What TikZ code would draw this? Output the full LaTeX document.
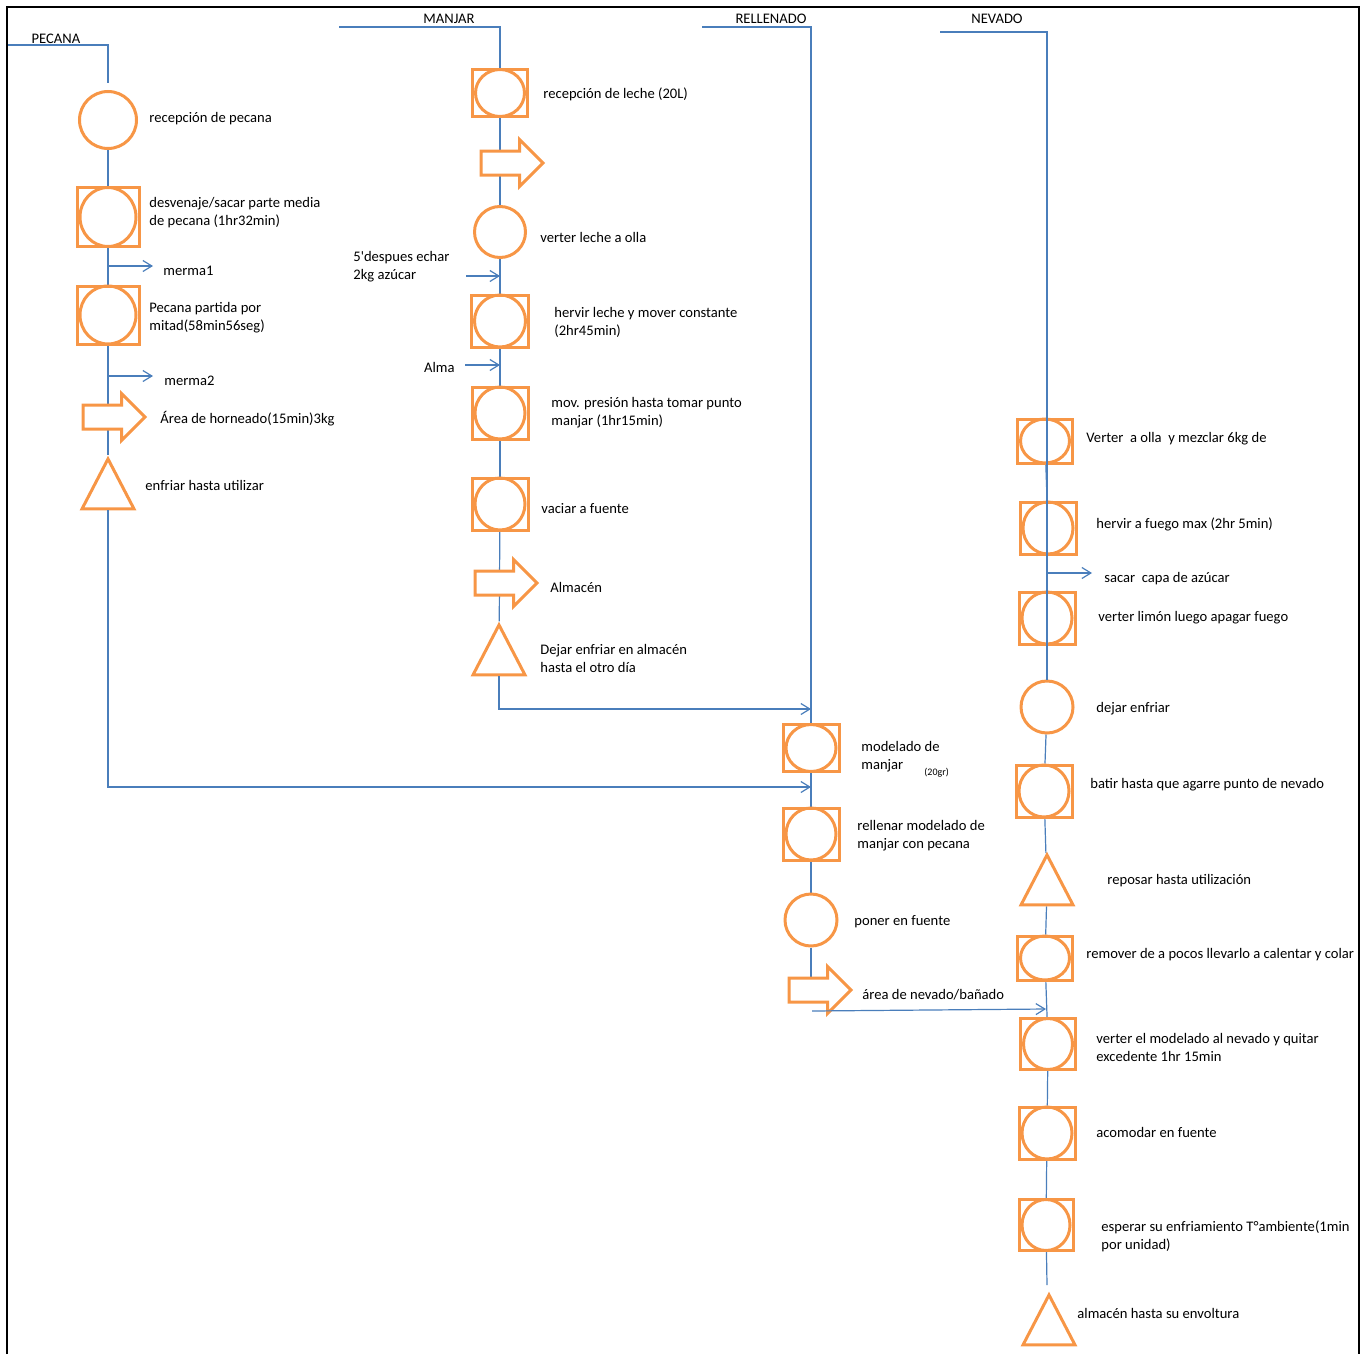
\documentclass[tikz,border=0pt]{standalone}
\usepackage{fontspec}
\setmainfont{Carlito}
\usepackage{tikz}
\usetikzlibrary{positioning}
\usetikzlibrary{arrows.meta,shapes}
\usetikzlibrary{shapes.geometric,shapes.arrows}
\usetikzlibrary{backgrounds}
\definecolor{naranja}{HTML}{F79646}
\definecolor{azul}{HTML}{4A7EBB}
\newcommand{\etiq}{\fontsize{7.3}{9}\selectfont}
\newcommand{\etiqchica}{\fontsize{5}{6}\selectfont}
\tikzstyle{oper}=[circle,draw=naranja,line width=1.5pt,inner sep=0pt]
\tikzstyle{caja}=[rectangle,draw=naranja,line width=1.5pt,inner sep=0pt]
\tikzstyle{ovalo}=[ellipse,draw=naranja,line width=1.5pt,inner sep=0pt]
\tikzstyle{espera}=[isosceles triangle,isosceles triangle stretches,shape border rotate=90,draw=naranja,line width=1.5pt,minimum width=26pt,minimum height=25pt,inner sep=0pt,anchor=apex]
\tikzstyle{mover}=[single arrow,draw=naranja,fill=white,line width=1.5pt,minimum height=31pt,minimum width=22pt,single arrow head extend=5.75pt,inner xsep=0pt,inner ysep=5.25pt,anchor=tail]
\tikzstyle{flujo} = [draw=azul,line width=0.6pt]
\tikzstyle{salida} = [draw=azul,line width=0.6pt,-{Straight Barb[length=4.5pt,width=5.5pt]}]
\tikzstyle{texto} = [font=\etiq,anchor=west,align=left,inner sep=0pt,yshift=-1pt]
\tikzstyle{cabecera} = [font=\etiq,inner sep=0pt]
\tikzstyle{marco} = [draw=black,line width=1pt]

\begin{document}
\begin{tikzpicture}[x=0.5pt,y=-0.5pt]
    \useasboundingbox (0,0) rectangle (1369,1354);
    \draw[marco] (7,1354) -- (7,7) -- (1359,7) -- (1359,1354);

    % PECANA
    \node[cabecera] (hpecana) at (56,39) {PECANA};
    \node[oper,minimum size=28.5pt] (p1) at (108,120) {};
    \foreach \n/\x/\y/\w/\h in {p2/108/217/62/59, p3/108/315/62/58}
    {
        \node[caja,minimum width=\w*0.5pt,minimum height=\h*0.5pt] (\n) at (\x,\y) {};
        \node[ovalo,minimum width=\w*0.5pt-3pt,minimum height=\h*0.5pt] (\n c) at (\x,\y) {};
    }
    \node[mover] (p4) at (81.5,417) {};
    \node[espera] (p5) at (108,455) {};

    \foreach \n/\x/\y/\t in {tp1/149/117/recepción de pecana, tp2/149/211/{desvenaje/sacar parte media\\de pecana (1hr32min)}, tmer1/163/269/merma1, tp3/149/316/{Pecana partida por\\mitad(58min56seg)}, tmer2/164/379/merma2, tp4/160/417/Área de horneado(15min)3kg, tp5/145/483/enfriar hasta utilizar}
        \node[texto] (\n) at (\x,\y) {\t};

    \coordinate (pcab) at (8,45);
    \coordinate (pini) at (108,45);
    \coordinate (pfin) at (108,83);
    \coordinate (pm1) at (108,266);
    \coordinate (pm1f) at (153,266);
    \coordinate (pm2) at (108,376);
    \coordinate (pm2f) at (153,376);

    % MANJAR
    \node[cabecera] (hmanjar) at (449,19) {MANJAR};
    \foreach \n/\x/\y/\w/\h in {m1/500/93/55/47, m4/500/321/57/52, m5/500/413/56/52, m6/500/504/56/52}
    {
        \node[caja,minimum width=\w*0.5pt,minimum height=\h*0.5pt] (\n) at (\x,\y) {};
        \node[ovalo,minimum width=\w*0.5pt-3pt,minimum height=\h*0.5pt] (\n c) at (\x,\y) {};
    }
    \node[mover] (m2) at (479.5,163) {};
    \node[oper,minimum size=25.5pt] (m3) at (500,232) {};
    \node[mover] (m7) at (473.5,583) {};
    \node[espera] (m8) at (499,621) {};

    \foreach \n/\x/\y/\t in {tm1/543/92/recepción de leche (20L), tm3/540/235/verter leche a olla, tm4/554/320/{hervir leche y mover constante\\(2hr45min)}, tm5/551/411/{mov. presión hasta tomar punto\\manjar (1hr15min)}, tm6/541/507/vaciar a fuente, tm7/550/585/Almacén, tm8/540/656/{Dejar enfriar en almacén\\hasta el otro día}, tazucar/353/265/{5\textquotesingle despues echar\\2kg azúcar}}
        \node[texto] (\n) at (\x,\y) {\t};
    \node[texto,anchor=east] (talma) at (455,365) {Alma};

    \coordinate (mcab) at (339,27);
    \coordinate (mini) at (500,27);
    \coordinate (maz) at (466,276);
    \coordinate (mazf) at (500,276);
    \coordinate (mal) at (465,365);
    \coordinate (malf) at (500,365);

    % RELLENADO
    \node[cabecera] (hrellenado) at (771,19) {RELLENADO};
    \foreach \n/\x/\y/\w/\h in {r1/811/748/56/47, r2/811/834/56/52}
    {
        \node[caja,minimum width=\w*0.5pt,minimum height=\h*0.5pt] (\n) at (\x,\y) {};
        \node[ovalo,minimum width=\w*0.5pt-3pt,minimum height=\h*0.5pt] (\n c) at (\x,\y) {};
    }
    \node[oper,minimum size=26pt] (r3) at (811,920) {};
    \node[mover] (r4) at (787.5,990) {};

    \foreach \n/\x/\y/\t in {tr1/861/755/{modelado de\\manjar}, tr2/857/834/{rellenar modelado de\\manjar con pecana}, tr3/854/920/poner en fuente, tr4/862/993/{área de nevado/bañado}}
        \node[texto] (\n) at (\x,\y) {\t};
    \node[texto,font=\etiqchica] (tgr) at (924,771) {(20gr)};

    \coordinate (rcab) at (702,27);
    \coordinate (rini) at (811,27);
    \coordinate (rin1) at (811,709);
    \coordinate (rin2) at (811,787);
    \coordinate (rout) at (812,1011);

    % NEVADO
    \node[cabecera] (hnevado) at (997,19) {NEVADO};
    \foreach \n/\x/\y/\w/\h in {n1/1045/441/55/44, n2/1048/528/56/52, n3/1047/618/56/52, n5/1044/791/56/52, n7/1045/958/55/44, n8/1048/1044/55/51, n9/1047/1133/56/52, n10/1046/1225/54/51}
    {
        \node[caja,minimum width=\w*0.5pt,minimum height=\h*0.5pt] (\n) at (\x,\y) {};
        \node[ovalo,minimum width=\w*0.5pt-3pt,minimum height=\h*0.5pt] (\n c) at (\x,\y) {};
    }
    \node[oper,minimum size=26pt] (n4) at (1047,707) {};
    \node[espera] (n6) at (1047,851) {};
    \node[espera] (n11) at (1049,1291) {};

    \foreach \n/\x/\y/\t in {tn1/1086/437/Verter\ \ a olla\ \ y mezclar 6kg de, tn2/1096/522/hervir a fuego max (2hr 5min), tsacar/1104/577/sacar\ \ capa de azúcar, tn3/1098/616/verter limón luego apagar fuego, tn4/1096/707/dejar enfriar, tn5/1090/783/batir hasta que agarre punto de nevado, tn6/1107/879/reposar hasta utilización, tn7/1086/953/remover de a pocos llevarlo a calentar y colar, tn8/1096/1045/{verter el modelado al nevado y quitar\\excedente 1hr 15min}, tn9/1096/1130/acomodar en fuente, tn10/1101/1234/{esperar su enfriamiento T°ambiente(1min\\por unidad)}, tn11/1077/1311/almacén hasta su envoltura}
        \node[texto] (\n) at (\x,\y) {\t};

    \coordinate (ncab) at (940,32);
    \coordinate (nini) at (1047,32);
    \coordinate (nsa) at (1048,573);
    \coordinate (nsaf) at (1092,573);
    \coordinate (nin) at (1046,1009);
    \coordinate (nfin) at (1047,1285);

    % conexiones
    \begin{pgfonlayer}{background}
    \foreach \source/\dest in {p1/p2, p2/p3, p3/p5, m1/m3, m3/m4, m4/m5, m5/m6, m6/m8, r1/r2, r2/r3, n1/n2, n4/n5, n5/n6, n6/n7, n7/n8, n8/n9, n9/n10}
        \path[flujo] (\source) -- (\dest);
    \path[flujo] (pcab) -- (pini) -- (pfin);
    \path[flujo] (mcab) -- (mini) -- (m1);
    \path[flujo] (rcab) -- (rini) -- (r1);
    \path[flujo] (r3) -- (r3 |- r4);
    \path[flujo] (n10) -- (nfin);
    \end{pgfonlayer}

    \foreach \source/\dest in {pm1/pm1f, pm2/pm2f, maz/mazf, mal/malf, nsa/nsaf, rout/nin}
        \path[salida] (\source) -- (\dest);
    \path[salida] (p5) |- (rin2);
    \path[salida] (m8) |- (rin1);
    \path[flujo] (ncab) -- (nini) -- (n4);

\end{tikzpicture}
\end{document}
